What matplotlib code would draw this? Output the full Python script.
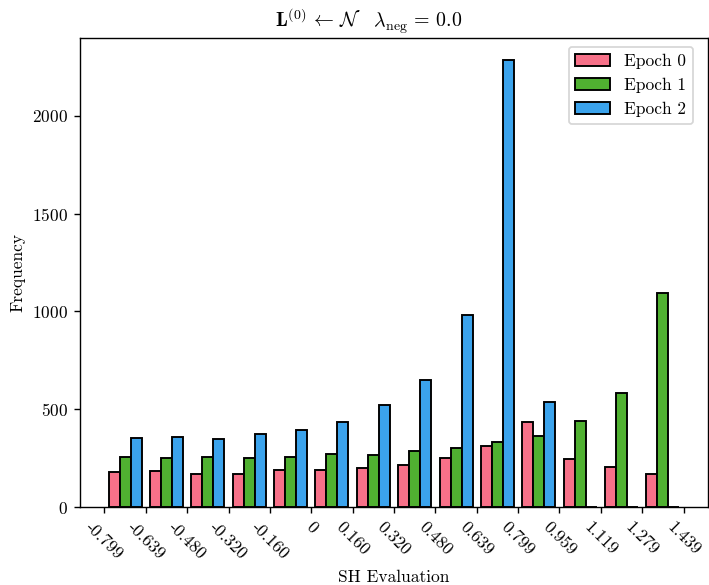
import numpy as np
import matplotlib
matplotlib.use('Agg')
import matplotlib.pyplot as plt

# LaTeX-like look without a TeX install
plt.rcParams['font.family'] = 'serif'
plt.rcParams['font.serif'] = ['cmr10']
plt.rcParams['mathtext.fontset'] = 'cm'
plt.rcParams['axes.unicode_minus'] = False
plt.rcParams['axes.formatter.use_mathtext'] = True

# histogram bins (SH evaluation) and counts per epoch
bin_edges = np.linspace(-0.7993, 1.4389, 15)
tick_labels = ['-0.799', '-0.639', '-0.480', '-0.320', '-0.160', '0', '0.160',
               '0.320', '0.480', '0.639', '0.799', '0.959', '1.119', '1.279', '1.439']
epoch0 = [179, 183, 167, 169, 188, 191, 200, 217, 253, 312, 437, 246, 205, 171]
epoch1 = [256, 248, 256, 249, 256, 270, 268, 287, 302, 331, 363, 440, 583, 1092]
epoch2 = [355, 357, 348, 372, 396, 432, 519, 648, 981, 2283, 537, 0, 0, 0]
labels = ['Epoch 0', 'Epoch 1', 'Epoch 2']
colors = ['#f77189', '#50b131', '#3ba3ec']

centers = (bin_edges[:-1] + bin_edges[1:]) / 2

W, H, DPI = 709, 585, 125
fig = plt.figure(figsize=(W / DPI, H / DPI), dpi=DPI)
ax = fig.add_axes([80 / W, 1 - 507 / H, 628 / W, 469 / H])

ax.hist([centers] * 3, bins=bin_edges, weights=[epoch0, epoch1, epoch2],
        color=colors, edgecolor='black', linewidth=1.1, label=labels)

ax.set_xticks(bin_edges)
ax.set_xticklabels(tick_labels, rotation=-45)
ax.set_xlabel('SH Evaluation')
ax.set_ylabel('Frequency')
ax.set_title(r'$\mathbf{L}^{(0)}\,\leftarrow\,\mathcal{N} \quad \lambda_{\mathrm{neg}}\,=\,0.0$',
             fontsize=11.5, x=0.46)
ax.legend(loc='upper right', bbox_to_anchor=(693 / W, 1 - 47 / H),
          bbox_transform=fig.transFigure, borderaxespad=0)

fig.savefig('out.png', dpi=DPI)
